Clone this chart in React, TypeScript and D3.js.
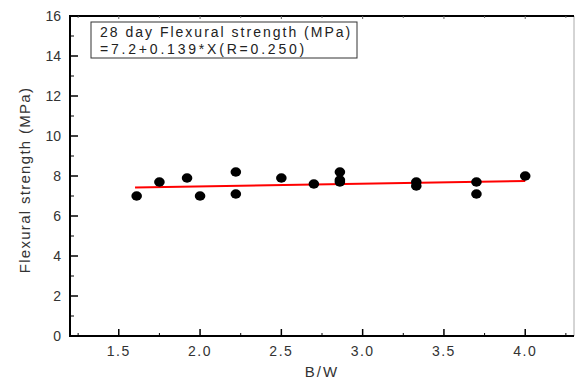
import React from "react";
import * as d3 from "d3";

const bwValues = [1.61, 1.75, 1.92, 2.0, 2.22, 2.22, 2.5, 2.7, 2.86, 2.86, 2.86, 3.33, 3.33, 3.7, 3.7, 4.0];
const strengthValues = [7.0, 7.7, 7.9, 7.0, 8.2, 7.1, 7.9, 7.6, 8.2, 7.8, 7.7, 7.7, 7.5, 7.7, 7.1, 8.0];
const xTicks = [1.5, 2.0, 2.5, 3.0, 3.5, 4.0];
const xMinor = [1.25, 1.75, 2.25, 2.75, 3.25, 3.75, 4.25];
const yTicks = [0, 2, 4, 6, 8, 10, 12, 14, 16];
const yMinor = [1, 3, 5, 7, 9, 11, 13, 15];
const fitIntercept = 7.2;
const fitSlope = 0.139;
const fitRange = [1.6, 4.0];
const legendLines = ["28 day Flexural strength (MPa)", "=7.2+0.139*X(R=0.250)"];
const legendSpacing = [2.0, 2.8];

const W = 575, H = 383;
const L = 70, R = 574, T = 16, B = 336;

export default function App() {
  const x = d3.scaleLinear().domain([1.2, 4.3]).range([L, R]);
  const y = d3.scaleLinear().domain([0, 16]).range([B, T]);
  const line = d3.line<number>().x((d) => x(d)).y((d) => y(fitIntercept + fitSlope * d));
  const font = "'Liberation Sans', Arial, sans-serif";
  return (
    <svg width={W} height={H} style={{ position: "absolute", left: 0, top: 0, background: "#fff" }} fontFamily={font}>
      {/* frame */}
      <line x1={R} x2={R} y1={T} y2={B} stroke="#aaa" strokeWidth={1} />
      <line x1={L} x2={R} y1={T} y2={T} stroke="#000" strokeWidth={2} />
      <line x1={L} x2={R} y1={B} y2={B} stroke="#000" strokeWidth={2} />
      <line x1={L} x2={L} y1={T - 1} y2={B + 1} stroke="#000" strokeWidth={2} />
      {/* x ticks */}
      {xTicks.map((t) => (
        <g key={"xt" + t}>
          <line x1={x(t)} x2={x(t)} y1={B} y2={B - 7} stroke="#000" strokeWidth={1.5} />
          <line x1={x(t)} x2={x(t)} y1={T} y2={T + 3} stroke="#666" strokeWidth={1} />
          <text x={x(t)} y={356} textAnchor="middle" fontSize={14} fill="#333" letterSpacing={1.5}>
            {t.toFixed(1)}
          </text>
        </g>
      ))}
      {xMinor.map((t) => (
        <g key={"xm" + t}>
          <line x1={x(t)} x2={x(t)} y1={B} y2={B - 3} stroke="#000" strokeWidth={1} />
          <line x1={x(t)} x2={x(t)} y1={T} y2={T + 2} stroke="#666" strokeWidth={1} />
        </g>
      ))}
      {/* y ticks */}
      {yTicks.map((t) => (
        <g key={"yt" + t}>
          <line x1={L} x2={L + 8} y1={y(t)} y2={y(t)} stroke="#000" strokeWidth={1.5} />
          <text x={61} y={y(t) + 5} textAnchor="end" fontSize={14} fill="#333">
            {t}
          </text>
        </g>
      ))}
      {yMinor.map((t) => (
        <line key={"ym" + t} x1={L} x2={L + 4} y1={y(t)} y2={y(t)} stroke="#000" strokeWidth={1} />
      ))}
      {/* axis titles */}
      <text x={322} y={377} textAnchor="middle" fontSize={15} fill="#333" letterSpacing={2}>
        B/W
      </text>
      <text
        transform={`translate(30,${(T + B) / 2 + 4}) rotate(-90)`}
        textAnchor="middle"
        fontSize={15}
        fill="#333"
        letterSpacing={1.3}
      >
        Flexural strength (MPa)
      </text>
      {/* fit line */}
      <path d={line(fitRange) || ""} stroke="#ff0000" strokeWidth={2} fill="none" />
      {/* points */}
      {bwValues.map((v, i) => (
        <ellipse key={"p" + i} cx={x(v)} cy={y(strengthValues[i])} rx={5.3} ry={4.7} fill="#000" />
      ))}
      {/* legend box */}
      <rect x={91} y={22} width={266} height={36} fill="#fff" stroke="#333" strokeWidth={1} />
      {legendLines.map((s, i) => (
        <text key={"lg" + i} x={100} y={37 + i * 17} fontSize={14} fill="#222" letterSpacing={legendSpacing[i]}>
          {s}
        </text>
      ))}
    </svg>
  );
}
